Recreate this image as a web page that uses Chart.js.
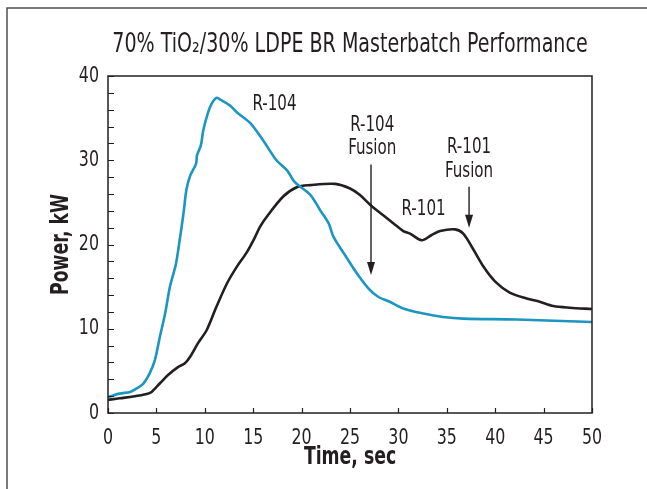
<!DOCTYPE html>
<html>
<head>
<meta charset="utf-8">
<script src="https://cdn.jsdelivr.net/npm/chart.js@4/dist/chart.umd.min.js"></script>
<style>
html,body{margin:0;padding:0;background:#ffffff;}
#wrap{width:647px;height:489px;position:relative;}
</style>
</head>
<body>
<div id="wrap"><canvas id="c" width="647" height="489"></canvas></div>
<script>
// ---- data ----
const timeR104 = [0, 1.2, 2.3, 2.8, 3.65, 4.3, 4.85, 5.35, 5.9, 6.4, 7.0, 7.3, 7.8, 8.1, 8.5, 9.1, 9.2, 9.6, 9.85, 10.35, 10.7, 11.2, 11.6, 12.6, 13.3, 14.7, 16.0, 17.4, 18.5, 19.3, 20.9, 21.9, 22.8, 23.3, 24.7, 25.7, 26.9, 27.9, 29.1, 30.5, 32.6, 34.6, 36.7, 42.2, 50];
const powerR104 = [1.9, 2.3, 2.5, 2.8, 3.5, 4.7, 6.3, 9.0, 11.8, 15.0, 17.6, 19.7, 23.7, 26.5, 28.2, 29.6, 30.6, 31.8, 33.6, 35.7, 36.7, 37.4, 37.2, 36.5, 35.7, 34.4, 32.4, 30.0, 28.8, 27.4, 25.9, 24.1, 22.5, 20.9, 18.35, 16.6, 14.8, 13.8, 13.2, 12.4, 11.8, 11.4, 11.2, 11.1, 10.8];
const timeR101 = [0, 1.2, 2.6, 4.0, 4.5, 5.35, 6.2, 7.3, 7.95, 8.5, 9.3, 10.2, 11.2, 12.3, 13.3, 14.3, 15.2, 15.7, 16.4, 18.1, 19.5, 20.9, 23.45, 25.0, 26.0, 27.1, 28.4, 29.5, 30.5, 31.2, 32.4, 33.4, 34.3, 35.85, 36.7, 37.7, 38.8, 40.0, 41.5, 43.25, 44.6, 46.0, 47.7, 50];
const powerR101 = [1.55, 1.75, 1.95, 2.25, 2.5, 3.5, 4.5, 5.5, 5.9, 6.7, 8.3, 9.85, 12.6, 15.4, 17.35, 19.0, 20.9, 22.1, 23.3, 25.7, 26.8, 27.05, 27.2, 26.65, 25.9, 24.7, 23.5, 22.5, 21.6, 21.3, 20.5, 21.1, 21.6, 21.8, 21.3, 19.5, 17.35, 15.6, 14.3, 13.6, 13.2, 12.7, 12.5, 12.35];
const xTickValues = [0, 5, 10, 15, 20, 25, 30, 35, 40, 45, 50];
const yTickLabels = [0, 10, 20, 30, 40];
// annotation texts and their anchor values (time, power)
const labelTexts = ['R-104', 'R-104', 'Fusion', 'R-101', 'R-101', 'Fusion'];
const labelTime  = [17.2, 27.3, 27.3, 32.6, 37.3, 37.3];
const labelPower = [36.65, 34.07, 31.4, 24.2, 31.55, 28.7];
const arrowTime  = [27.17, 37.3];
const arrowFrom  = [29.5, 26.85];
const arrowTo    = [16.37, 22.0];

const FONT = '"Liberation Sans Narrow", "DejaVu Sans Condensed", "DejaVu Sans", sans-serif';
const INK = '#231f20';
const BLUE = '#1a96c0';
const NARROW = 0.8; // horizontal squeeze to imitate a condensed face

const canvas = document.getElementById('c');
const ctx2d = canvas.getContext('2d');
const origFillText = ctx2d.fillText;
ctx2d.fillText = function (text, x, y) {
  this.save();
  this.translate(x, y);
  this.scale(NARROW, 1);
  origFillText.call(this, text, 0, 0);
  this.restore();
};

const decorPlugin = {
  id: 'decor',
  beforeDraw(chart) {
    const c = chart.ctx;
    c.save();
    c.strokeStyle = '#505050';
    c.lineWidth = 1.5;
    c.beginPath();
    c.moveTo(7, 489);
    c.lineTo(7, 8);
    c.lineTo(647, 8);
    c.stroke();
    c.restore();
  },
  afterDraw(chart) {
    const c = chart.ctx;
    const a = chart.chartArea;
    const xs = chart.scales.x, ys = chart.scales.y;
    c.save();
    // frame
    c.strokeStyle = INK;
    c.lineWidth = 1.5;
    c.strokeRect(a.left, a.top, a.right - a.left, a.bottom - a.top);
    // inward ticks
    c.lineWidth = 1.2;
    c.beginPath();
    xs.ticks.forEach(t => {
      const px = Math.round(xs.getPixelForValue(t.value)) + 0.5;
      c.moveTo(px, a.bottom);
      c.lineTo(px, a.bottom - 5);
    });
    ys.ticks.forEach(t => {
      const py = Math.round(ys.getPixelForValue(t.value)) + 0.5;
      c.moveTo(a.left, py);
      c.lineTo(a.left + 6, py);
    });
    c.stroke();
    // annotation texts
    c.fillStyle = INK;
    c.font = '21px ' + FONT;
    c.textAlign = 'center';
    c.textBaseline = 'middle';
    labelTexts.forEach((txt, i) => {
      c.fillText(txt, xs.getPixelForValue(labelTime[i]), ys.getPixelForValue(labelPower[i]));
    });
    // arrows
    arrowTime.forEach((t, i) => {
      const px = xs.getPixelForValue(t);
      const y0 = ys.getPixelForValue(arrowFrom[i]);
      const y1 = ys.getPixelForValue(arrowTo[i]);
      c.strokeStyle = INK;
      c.lineWidth = 1.4;
      c.beginPath();
      c.moveTo(px, y0);
      c.lineTo(px, y1 - 10);
      c.stroke();
      c.beginPath();
      c.moveTo(px - 4, y1 - 13);
      c.lineTo(px + 4, y1 - 13);
      c.lineTo(px, y1);
      c.closePath();
      c.fill();
    });
    c.restore();
  }
};

const toPoints = (ts, ps) => ts.map((t, i) => ({x: t, y: ps[i]}));

new Chart(canvas, {
  type: 'line',
  data: {
    datasets: [
      {label: 'R-104', data: toPoints(timeR104, powerR104), borderColor: BLUE, borderWidth: 2.6, pointRadius: 0, tension: 0.3, fill: false},
      {label: 'R-101', data: toPoints(timeR101, powerR101), borderColor: INK, borderWidth: 2.6, pointRadius: 0, tension: 0.3, fill: false}
    ]
  },
  options: {
    responsive: false,
    animation: false,
    devicePixelRatio: 1,
    layout: {padding: {left: 0, right: 55, top: 0, bottom: 0}},
    plugins: {
      legend: {display: false},
      tooltip: {enabled: false},
      title: {
        display: true,
        fullSize: false,
        text: '70% TiO\u2082/30% LDPE BR Masterbatch Performance',
        color: INK,
        font: {family: FONT, size: 26.5, weight: 'normal', lineHeight: 1.2},
        padding: {top: 29.6, bottom: 14.6}
      }
    },
    scales: {
      x: {
        type: 'linear', min: 0, max: 50,
        afterBuildTicks(s) { s.ticks = xTickValues.map(v => ({value: v})); },
        ticks: {color: INK, padding: 12, maxRotation: 0, autoSkip: false, font: {family: FONT, size: 22, lineHeight: 1.2}},
        grid: {display: false, drawTicks: false, tickLength: 0},
        border: {display: false},
        title: {display: true, text: 'Time, sec', color: INK, font: {family: FONT, size: 24, weight: 'bold', lineHeight: 1.2}, padding: {top: 0, bottom: 16.6}},
        afterFit(s) { s.height = 76; }
      },
      y: {
        min: 0, max: 40,
        ticks: {stepSize: 2, color: INK, padding: 9, autoSkip: false, font: {family: FONT, size: 22, lineHeight: 1.2},
          callback: v => yTickLabels.includes(v) ? String(v) : ''},
        grid: {display: false, drawTicks: false, tickLength: 0},
        border: {display: false},
        title: {display: true, text: 'Power, kW', color: INK, font: {family: FONT, size: 24, weight: 'bold', lineHeight: 1.2}, padding: {top: 47.6, bottom: 0}},
        afterFit(s) { s.width = 108; }
      }
    }
  },
  plugins: [decorPlugin]
});
</script>
</body>
</html>
